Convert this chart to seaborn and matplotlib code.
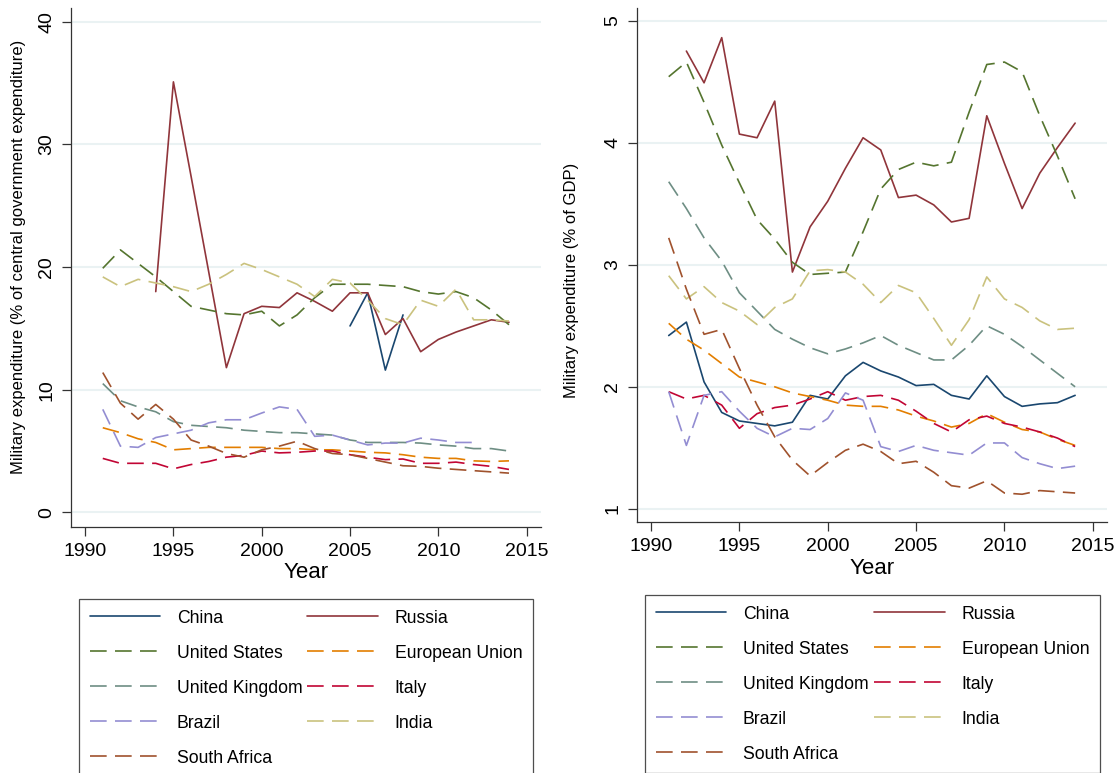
import numpy as np
import pandas as pd
import matplotlib
matplotlib.use("Agg")
import matplotlib.pyplot as plt
from matplotlib.lines import Line2D
import seaborn as sns

nan = np.nan
years = list(range(1991, 2015))

countries = ['China', 'Russia', 'United States', 'European Union', 'United Kingdom',
             'Italy', 'Brazil', 'India', 'South Africa']

# % of central government expenditure
china_gov = [nan] * 14 + [15.2, 17.9, 11.6, 16.1] + [nan] * 6
russia_gov = [nan, nan, nan, 18.0, 35.1, 27.4, 19.6, 11.8, 16.2, 16.8, 16.7, 17.9,
              17.2, 16.4, 17.9, 17.9, 14.5, 15.8, 13.1, 14.1, 14.7, 15.2, 15.7, 15.5]
us_gov = [19.9, 21.4, 20.3, 19.2, 18.0, 16.8, 16.5, 16.2, 16.1, 16.4, 15.2, 16.1,
          17.5, 18.6, 18.6, 18.6, 18.5, 18.4, 18.0, 17.8, 18.0, 17.5, 16.5, 15.3]
eu_gov = [6.9, 6.5, 6.0, 5.7, 5.1, 5.2, 5.3, 5.3, 5.3, 5.3, 5.2, 5.2,
          5.1, 5.1, 5.0, 4.9, 4.85, 4.7, 4.5, 4.4, 4.4, 4.2, 4.15, 4.2]
uk_gov = [10.5, 9.1, 8.6, 8.2, 7.4, 7.1, 7.0, 6.9, 6.7, 6.6, 6.5, 6.5,
          6.4, 6.3, 5.9, 5.7, 5.7, 5.7, 5.65, 5.5, 5.4, 5.2, 5.2, 5.0]
italy_gov = [4.4, 4.0, 4.0, 4.0, 3.55, 3.9, 4.15, 4.5, 4.65, 5.0, 4.85, 4.9,
             5.0, 5.0, 4.7, 4.5, 4.3, 4.35, 4.0, 4.0, 4.1, 3.9, 3.75, 3.5]
brazil_gov = [8.4, 5.4, 5.3, 6.1, 6.4, 6.7, 7.3, 7.55, 7.55, 8.1, 8.6, 8.4,
              6.2, 6.3, 5.9, 5.5, 5.65, 5.65, 6.05, 5.9, 5.7, 5.7, nan, nan]
india_gov = [19.2, 18.4, 19.0, 18.7, 18.4, 18.0, 18.6, 19.4, 20.3, 19.8, 19.2, 18.6,
             17.6, 19.0, 18.7, 17.3, 15.8, 15.3, 17.3, 16.8, 18.2, 15.7, 15.7, 15.6]
safrica_gov = [11.4, 8.9, 7.6, 8.8, 7.6, 5.9, 5.4, 4.8, 4.5, 5.1, 5.4, 5.8,
               5.2, 4.8, 4.7, 4.4, 4.1, 3.8, 3.75, 3.6, 3.5, 3.4, 3.3, 3.2]

# % of GDP
china_gdp = [2.42, 2.53, 2.04, 1.79, 1.72, 1.70, 1.68, 1.71, 1.93, 1.90, 2.09, 2.20,
             2.13, 2.08, 2.01, 2.02, 1.93, 1.90, 2.09, 1.92, 1.84, 1.86, 1.87, 1.93]
russia_gdp = [nan, 4.75, 4.49, 4.86, 4.07, 4.04, 4.34, 2.94, 3.31, 3.52, 3.79, 4.04,
              3.94, 3.55, 3.57, 3.49, 3.35, 3.38, 4.22, 3.83, 3.46, 3.75, 3.96, 4.16]
us_gdp = [4.54, 4.66, 4.33, 3.98, 3.67, 3.37, 3.21, 3.02, 2.92, 2.93, 2.94, 3.27,
          3.62, 3.78, 3.84, 3.81, 3.84, 4.25, 4.64, 4.66, 4.58, 4.22, 3.89, 3.54]
eu_gdp = [2.52, 2.39, 2.30, 2.19, 2.08, 2.04, 2.00, 1.95, 1.92, 1.89, 1.85, 1.84,
          1.84, 1.81, 1.76, 1.72, 1.67, 1.70, 1.78, 1.71, 1.65, 1.63, 1.57, 1.52]
uk_gdp = [3.68, 3.46, 3.22, 3.03, 2.77, 2.62, 2.47, 2.39, 2.32, 2.27, 2.31, 2.36,
          2.42, 2.34, 2.28, 2.22, 2.22, 2.34, 2.50, 2.43, 2.33, 2.22, 2.11, 2.00]
italy_gdp = [1.96, 1.90, 1.93, 1.85, 1.66, 1.78, 1.83, 1.85, 1.90, 1.96, 1.89, 1.92,
             1.93, 1.89, 1.80, 1.70, 1.63, 1.73, 1.76, 1.70, 1.67, 1.63, 1.58, 1.51]
brazil_gdp = [1.96, 1.52, 1.93, 1.96, 1.80, 1.66, 1.59, 1.66, 1.65, 1.74, 1.95, 1.89,
              1.51, 1.47, 1.52, 1.48, 1.46, 1.44, 1.54, 1.54, 1.42, 1.37, 1.33, 1.35]
india_gdp = [2.91, 2.72, 2.82, 2.69, 2.62, 2.51, 2.65, 2.72, 2.95, 2.96, 2.94, 2.84,
             2.69, 2.83, 2.77, 2.56, 2.34, 2.55, 2.90, 2.72, 2.65, 2.54, 2.47, 2.48]
safrica_gdp = [3.22, 2.80, 2.43, 2.47, 2.15, 1.85, 1.59, 1.40, 1.27, 1.38, 1.48, 1.53,
               1.47, 1.37, 1.39, 1.30, 1.19, 1.17, 1.23, 1.13, 1.12, 1.15, 1.14, 1.13]

colors = {'China': '#1a476f', 'Russia': '#90353b', 'United States': '#55752f',
          'European Union': '#e37e00', 'United Kingdom': '#6e8e84', 'Italy': '#c10534',
          'Brazil': '#938dd2', 'India': '#cac27e', 'South Africa': '#a0522d'}
solid = ['China', 'Russia']
dash_style = {c: ('' if c in solid else (12, 6)) for c in countries}


def to_long(series):
    rows = []
    for name, vals in zip(countries, series):
        for yr, v in zip(years, vals):
            rows.append((yr, name, v))
    return pd.DataFrame(rows, columns=['Year', 'Country', 'Value']).dropna()


gov_df = to_long([china_gov, russia_gov, us_gov, eu_gov, uk_gov,
                  italy_gov, brazil_gov, india_gov, safrica_gov])
gdp_df = to_long([china_gdp, russia_gdp, us_gdp, eu_gdp, uk_gdp,
                  italy_gdp, brazil_gdp, india_gdp, safrica_gdp])

sns.set_theme(style="white")
plt.rcParams['font.family'] = ['Liberation Sans', 'DejaVu Sans']
plt.rcParams['lines.scale_dashes'] = False

fig = plt.figure(figsize=(11.18, 7.73), dpi=100)
ax1 = fig.add_axes([0.0638, 0.3186, 0.4199, 0.6707])
ax2 = fig.add_axes([0.5700, 0.3243, 0.4201, 0.6649])

panels = [
    (ax1, gov_df, 'Military expenditure (% of central government expenditure)',
     (-1.17, 41.1), [0, 10, 20, 30, 40], (-0.0965, 0.520)),
    (ax2, gdp_df, 'Military expenditure (% of GDP)', (0.89, 5.10), [1, 2, 3, 4, 5],
     (-0.124, 0.471)),
]

for ax, df, ylab, ylim, yt, lab_xy in panels:
    for t in yt:
        ax.axhline(t, color='#eaf2f3', lw=1.5, zorder=0)
    sns.lineplot(data=df, x='Year', y='Value', hue='Country', style='Country',
                 hue_order=countries, style_order=countries, palette=colors,
                 dashes=dash_style, linewidth=1.2, legend=False, ax=ax)
    ax.set_xlim(1989.22, 2015.8)
    ax.set_ylim(*ylim)
    ax.set_xticks([1990, 1995, 2000, 2005, 2010, 2015])
    ax.set_yticks(yt)
    ax.set_yticklabels([str(t) for t in yt], rotation=90, va='center')
    ax.tick_params(axis='both', labelsize=14, length=6.5, width=0.9, color='#333333',
                   labelcolor='black', direction='out', left=True, bottom=True, pad=5)
    ax.set_xlabel('Year', fontsize=16, labelpad=2, color='black')
    ax.set_ylabel(ylab, fontsize=12, color='black')
    ax.yaxis.set_label_coords(*lab_xy)
    for s in ['top', 'right']:
        ax.spines[s].set_visible(False)
    for s in ['left', 'bottom']:
        ax.spines[s].set_color('#333333')
        ax.spines[s].set_linewidth(0.9)
    ax.grid(False)

# legend order: fills column-wise
order = ['China', 'United States', 'United Kingdom', 'Brazil', 'South Africa',
         'Russia', 'European Union', 'Italy', 'India']
handles = []
for c in order:
    h = Line2D([], [], color=colors[c], lw=1.2)
    if c not in solid:
        h.set_dashes((12, 6))
    handles.append(h)

for x0, y0, w in [(79, 599, 454), (645, 595, 455)]:
    leg = fig.legend(handles, order, loc='upper left', ncol=2, mode='expand',
                     bbox_to_anchor=(x0 / 1118, 0, w / 1118, 1 - y0 / 773),
                     fontsize=12.7, frameon=True, fancybox=False, borderpad=0.6,
                     labelspacing=1.02, handlelength=4.0, handletextpad=0.95,
                     borderaxespad=0)
    leg.get_frame().set_edgecolor('#222222')
    leg.get_frame().set_linewidth(0.9)
    for t in leg.get_texts():
        t.set_color('black')

fig.savefig('out.png', dpi=100, facecolor='white')
